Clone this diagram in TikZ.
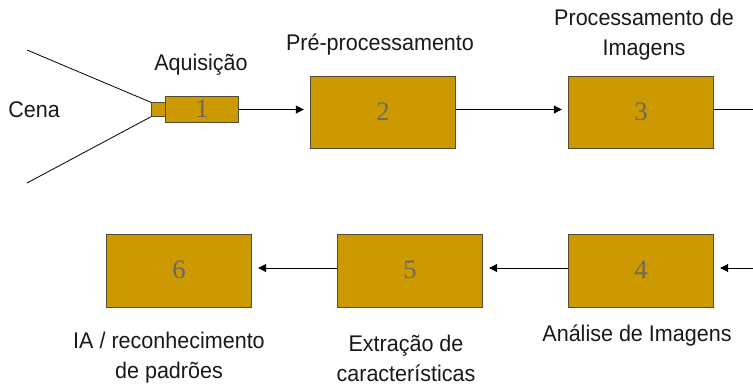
\documentclass[tikz,border=0pt]{standalone}
\usepackage{fontspec}
\setmainfont[FakeStretch=0.95]{Liberation Sans}
\newfontfamily\numfont{Liberation Serif}
\usetikzlibrary{arrows.meta}
\definecolor{boxfill}{RGB}{204,153,0}
\definecolor{numgray}{RGB}{110,105,95}
\definecolor{edgegray}{RGB}{85,75,50}
\newcommand{\boxnum}[1]{\raisebox{1.5pt}{#1}}
\tikzset{
 x=0.75pt,y=-0.75pt,
 stagebox/.style={draw=edgegray,fill=boxfill,line width=0.75pt,minimum width=109pt,minimum height=54.5pt,inner sep=0pt,text=numgray,font=\numfont\fontsize{20}{20}\selectfont},
 lbl/.style={font=\fontsize{17}{22.5}\selectfont,align=center,inner sep=0pt,text=black!90},
 conn/.style={draw=black,line width=0.6pt,shorten >=4.5pt,-{Triangle[length=6pt,width=6pt]}},
 ray/.style={draw=black,line width=0.6pt}
}
\begin{document}
\begin{tikzpicture}
\useasboundingbox (0,0) rectangle (753,386);
\node[stagebox,minimum width=10pt,minimum height=9.8pt] (lens) at (158.5,109.5) {};
\node[stagebox,minimum width=55pt,minimum height=20pt] (b1) at (202,109.5) {\boxnum{1}};
\node[stagebox] (b2) at (383,112.5) {\boxnum{2}};
\node[stagebox] (b3) at (641,112.5) {\boxnum{3}};
\node[stagebox] (b4) at (641,271) {\boxnum{4}};
\node[stagebox] (b5) at (410,271) {\boxnum{5}};
\node[stagebox] (b6) at (179,271) {\boxnum{6}};
\coordinate (r1) at (27,50);
\coordinate (r2) at (27,183);
\coordinate (e3) at (753,109.5);
\coordinate (e4) at (753,268);
\draw[ray] (r1) -- (lens.north west);
\draw[ray] (r2) -- (lens.south west);
\draw[conn] (b1.east) -- (b2.west |- b1.east);
\draw[conn] (b2.east |- e3) -- (b3.west |- e3);
\draw[ray] (b3.east |- e3) -- (e3);
\draw[conn] (e4) -- (b4.east |- e4);
\draw[conn] (b4.west |- e4) -- (b5.east |- e4);
\draw[conn] (b5.west |- e4) -- (b6.east |- e4);
\node[lbl] (t0) at (34,110) {Cena};
\node[lbl] (t1) at (201,65) {Aquisição};
\node[lbl] (t2) at (380,45) {Pré-processamento};
\node[lbl] (t3) at (644,34.5) {Processamento de\\Imagens};
\node[lbl] (t4) at (637,335) {Análise de Imagens};
\node[lbl] (t5) at (406,358) {Extração de\\características};
\node[lbl] (t6) at (169,358) {IA / reconhecimento\\de padrões};
\end{tikzpicture}
\end{document}
